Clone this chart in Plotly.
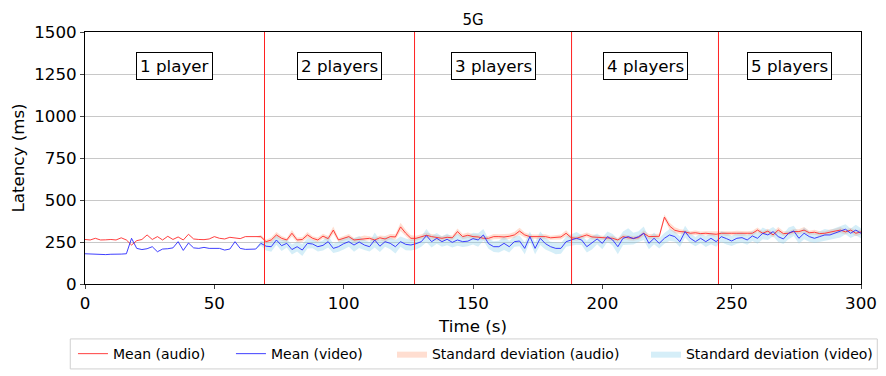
import plotly.graph_objects as go

# time axis (s), one sample every 2 s
time_s = list(range(0, 301, 2))

# mean latency (ms)
mean_audio = [
    265, 262, 272, 262, 263, 265, 262, 275, 262, 232,
    258, 265, 292, 265, 282, 262, 284, 265, 280, 262,
    296, 268, 265, 264, 268, 282, 272, 268, 278, 272,
    270, 282, 282, 281, 282, 252, 262, 292, 272, 262,
    302, 262, 265, 292, 272, 262, 285, 270, 321, 262,
    272, 282, 262, 265, 272, 272, 262, 275, 268, 282,
    280, 340, 302, 272, 272, 282, 290, 282, 275, 272,
    278, 275, 312, 282, 290, 282, 280, 272, 272, 282,
    282, 280, 284, 292, 315, 292, 282, 282, 280, 282,
    275, 278, 280, 302, 275, 272, 282, 292, 280, 278,
    275, 272, 272, 262, 282, 275, 272, 276, 302, 282,
    282, 284, 398, 345, 320, 312, 310, 302, 305, 300,
    302, 300, 296, 302, 300, 302, 302, 300, 302, 302,
    321, 302, 315, 292, 321, 300, 302, 312, 312, 321,
    305, 308, 300, 302, 310, 315, 321, 310, 321, 302,
    310,
]
mean_video = [
    180, 178, 176, 178, 175, 177, 176, 178, 180, 272,
    212, 205, 210, 222, 192, 208, 210, 215, 252, 200,
    244, 215, 212, 218, 212, 210, 212, 202, 208, 252,
    212, 206, 205, 208, 242, 225, 222, 262, 228, 242,
    205, 222, 202, 242, 238, 222, 230, 252, 212, 222,
    240, 252, 232, 250, 232, 222, 262, 225, 252, 242,
    222, 252, 236, 232, 240, 252, 288, 252, 272, 252,
    266, 248, 262, 252, 255, 270, 262, 292, 240, 222,
    222, 242, 222, 252, 256, 212, 282, 212, 272, 240,
    222, 212, 212, 252, 262, 272, 262, 222, 245, 268,
    242, 282, 262, 222, 272, 282, 270, 282, 302, 242,
    272, 242, 272, 292, 282, 252, 312, 272, 252, 272,
    252, 272, 252, 282, 270, 256, 272, 276, 262, 286,
    272, 302, 292, 312, 282, 268, 302, 316, 272, 302,
    282, 272, 282, 292, 292, 302, 312, 326, 302, 321,
    302,
]

# standard deviation (ms)
std_audio = [
    0, 0, 0, 0, 0, 0, 0, 0, 0, 0,
    0, 0, 0, 0, 0, 0, 0, 0, 0, 0,
    0, 0, 0, 0, 0, 0, 0, 0, 0, 0,
    0, 0, 0, 0, 10,
    12, 15, 18, 14, 12, 20, 15, 14, 18, 12, 15, 14, 16, 22, 12,
    14, 15, 12, 14, 16, 12, 15, 14, 18, 15, 16, 25, 20, 18, 15, 14, 16, 15, 18, 14,
    15, 14, 18, 15, 16, 14, 15, 12, 14, 15, 14, 16, 15, 18, 20, 15, 14, 12, 15, 14,
    12, 14, 15, 18, 12, 14, 12, 14, 15, 12, 12, 14, 15, 12, 14, 15, 14, 12, 18, 15,
    14, 15, 15, 20, 18, 14, 12, 12, 14, 12, 12, 14, 15, 12, 14, 12, 15, 14, 12, 15,
    15, 12, 14, 15, 18, 14, 12, 15, 14, 18, 12, 15, 14, 12, 15, 14, 18, 15, 14, 18, 15,
]
std_video = [
    0, 0, 0, 0, 0, 0, 0, 0, 0, 0,
    0, 0, 0, 0, 0, 0, 0, 0, 0, 0,
    0, 0, 0, 0, 0, 0, 0, 0, 0, 0,
    0, 0, 0, 0, 15,
    25, 30, 28, 32, 25, 30, 28, 35, 30, 25, 28, 30, 35, 28, 30,
    35, 30, 40, 35, 30, 28, 45, 35, 30, 35, 40, 30, 35, 32, 35, 30, 40, 35, 32, 30,
    35, 30, 35, 32, 30, 35, 40, 35, 30, 32, 35, 40, 35, 30, 32, 35, 30, 35, 40, 35,
    30, 35, 32, 30, 35, 38, 30, 35, 40, 32, 35, 30, 35, 45, 40, 50, 35, 32, 40, 35,
    35, 30, 32, 35, 30, 32, 35, 30, 28, 30, 32, 35, 30, 32, 35, 30, 32, 30, 28, 30,
    32, 35, 30, 28, 32, 30, 35, 30, 32, 35, 30, 28, 32, 35, 30, 32, 35, 30, 28, 32, 30,
]

# moments a new player joined, and the labels of each phase
player_change = [69.4, 127.4, 188.1, 244.9]
phase_labels = ["1 player", "2 players", "3 players", "4 players", "5 players"]
label_y = 1300

FONT = "DejaVu Sans"

fig = go.Figure()

bands = [
    (mean_audio, std_audio, "rgba(255,160,122,0.35)", "Standard deviation (audio)", "legend3"),
    (mean_video, std_video, "rgba(135,206,235,0.35)", "Standard deviation (video)", "legend4"),
]
for mean, std, col, name, leg in bands:
    lower = [m - s for m, s in zip(mean, std)]
    upper = [m + s for m, s in zip(mean, std)]
    fig.add_trace(go.Scatter(x=time_s, y=lower, mode="lines", line=dict(width=0),
                             showlegend=False, hoverinfo="skip"))
    fig.add_trace(go.Scatter(x=time_s, y=upper, mode="lines", line=dict(width=0),
                             fill="tonexty", fillcolor=col, name=name, legend=leg))

fig.add_trace(go.Scatter(x=time_s, y=mean_audio, mode="lines",
                         line=dict(color="#ff2a2a", width=0.9), name="Mean (audio)", legend="legend"))
fig.add_trace(go.Scatter(x=time_s, y=mean_video, mode="lines",
                         line=dict(color="#2a2aff", width=0.9), name="Mean (video)", legend="legend2"))

for t in player_change:
    fig.add_shape(type="line", x0=t, x1=t, y0=0, y1=1, xref="x", yref="paper",
                  line=dict(color="#ff2020", width=1))

bounds = [0] + player_change + [300]
for i, lab in enumerate(phase_labels):
    fig.add_annotation(x=(bounds[i] + bounds[i + 1]) / 2, y=label_y, text=lab,
                       showarrow=False, font=dict(size=16.7, color="black", family=FONT),
                       bordercolor="black", borderwidth=1, borderpad=3, bgcolor="white")

# legend frame (matplotlib-style single box holding the four entries)
fig.add_shape(type="rect", xref="paper", yref="paper", x0=-0.019, x1=1.021, y0=-0.337, y1=-0.218,
              line=dict(color="#d0d0d0", width=1), fillcolor="white", layer="below")

leg_style = dict(orientation="h", xanchor="left", y=-0.278, yanchor="middle",
                 font=dict(size=14, family=FONT), borderwidth=0, bgcolor="rgba(0,0,0,0)")

# the page body adds an 8 px offset, margins are shifted to compensate
fig.update_layout(
    width=886, height=376,
    margin=dict(l=77, r=33, t=24, b=100),
    paper_bgcolor="white", plot_bgcolor="white",
    font=dict(family=FONT, color="black"),
    title=dict(text="5G", x=0.5, xanchor="center", xref="paper", y=1, yref="paper",
               yanchor="bottom", pad=dict(b=7), font=dict(size=15, family=FONT)),
    showlegend=True,
    legend=dict(x=-0.0155, **leg_style),
    legend2=dict(x=0.1881, **leg_style),
    legend3=dict(x=0.3956, **leg_style),
    legend4=dict(x=0.7229, **leg_style),
)
fig.update_xaxes(range=[0, 300], tickvals=[0, 50, 100, 150, 200, 250, 300],
                 showgrid=False, zeroline=False, showline=True, linecolor="black",
                 mirror=True, ticks="outside", ticklen=4, tickfont=dict(size=16.7),
                 automargin=False,
                 title=dict(text="Time (s)", font=dict(size=16.7), standoff=8))
fig.update_yaxes(range=[0, 1500], tickvals=[0, 250, 500, 750, 1000, 1250, 1500],
                 showgrid=True, gridcolor="#c8c8c8", gridwidth=1, zeroline=False,
                 showline=True, linecolor="black", mirror=True, ticks="outside",
                 ticklen=4, tickfont=dict(size=16.7), automargin=False,
                 title=dict(text="Latency (ms)", font=dict(size=16.7), standoff=8))

fig.write_html("out.html")
